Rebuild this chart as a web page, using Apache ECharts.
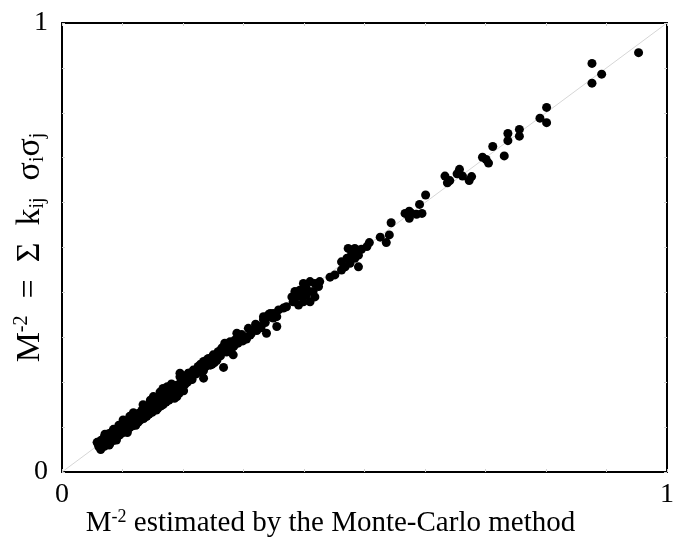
<!DOCTYPE html>
<html>
<head>
<meta charset="utf-8">
<script src="https://cdn.jsdelivr.net/npm/echarts@6/dist/echarts.min.js"></script>
<style>
  html, body { margin: 0; padding: 0; background: #fff; }
  #scatter-chart { width: 680px; height: 539px; }
</style>
</head>
<body>
<div id="scatter-chart"></div>
<script>
// tick labels shown on both axes
var tickLabels = ['0', '1'];

// dense band, low values (x = Monte-Carlo, y = sum)
var lowX = [0.060, 0.061, 0.062, 0.063, 0.064, 0.065, 0.066, 0.067, 0.068, 0.069, 0.070, 0.071, 0.072, 0.073, 0.074, 0.075, 0.076, 0.077, 0.078, 0.079,
            0.080, 0.082, 0.083, 0.084, 0.085, 0.086, 0.087, 0.088, 0.090, 0.091, 0.092, 0.093, 0.095, 0.096, 0.097, 0.099, 0.100, 0.101, 0.103, 0.104,
            0.105, 0.107, 0.108, 0.110, 0.111, 0.112, 0.114, 0.115, 0.117, 0.118, 0.120, 0.121, 0.123, 0.124, 0.126, 0.127, 0.129, 0.130, 0.132, 0.133,
            0.135, 0.136, 0.138, 0.139, 0.141, 0.142, 0.144, 0.145, 0.147, 0.149, 0.150, 0.152, 0.153, 0.155, 0.156, 0.158, 0.160, 0.161, 0.163, 0.164,
            0.166, 0.167, 0.169, 0.171, 0.172, 0.174, 0.176, 0.177, 0.179, 0.181, 0.183, 0.184, 0.186, 0.188, 0.190, 0.190, 0.192, 0.194, 0.196, 0.198,
            0.200, 0.201, 0.203, 0.205, 0.207, 0.209, 0.211];
var lowY = [0.061, 0.056, 0.067, 0.059, 0.070, 0.054, 0.063, 0.072, 0.060, 0.066, 0.078, 0.062, 0.069, 0.081, 0.065, 0.074, 0.068, 0.085, 0.071, 0.063,
            0.079, 0.088, 0.074, 0.082, 0.070, 0.093, 0.080, 0.087, 0.076, 0.096, 0.085, 0.090, 0.082, 0.101, 0.091, 0.096, 0.087, 0.106, 0.097, 0.092,
            0.110, 0.100, 0.094, 0.114, 0.105, 0.099, 0.118, 0.108, 0.103, 0.123, 0.113, 0.107, 0.128, 0.117, 0.111, 0.131, 0.121, 0.116, 0.137, 0.126,
            0.119, 0.141, 0.130, 0.124, 0.146, 0.135, 0.129, 0.150, 0.139, 0.133, 0.155, 0.144, 0.138, 0.160, 0.149, 0.141, 0.164, 0.153, 0.147, 0.169,
            0.158, 0.151, 0.173, 0.162, 0.156, 0.178, 0.166, 0.160, 0.183, 0.171, 0.166, 0.188, 0.176, 0.170, 0.168, 0.193, 0.181, 0.176, 0.199, 0.187,
            0.209, 0.181, 0.195, 0.212, 0.200, 0.220, 0.205];

// bumps along the edges of the low band
var edgeX = [0.058, 0.064, 0.070, 0.071, 0.078, 0.085, 0.090, 0.094, 0.101, 0.108, 0.112, 0.118, 0.122, 0.129, 0.134, 0.140, 0.146, 0.151, 0.156, 0.162,
             0.167, 0.167, 0.174, 0.181, 0.186, 0.190, 0.195];
var edgeY = [0.066, 0.050, 0.057, 0.084, 0.060, 0.095, 0.071, 0.104, 0.116, 0.088, 0.124, 0.132, 0.104, 0.118, 0.150, 0.124, 0.160, 0.168, 0.138, 0.178,
             0.186, 0.150, 0.190, 0.196, 0.164, 0.178, 0.212];

// band between 0.2 and 0.36
var midX = [0.195, 0.209, 0.213, 0.217, 0.221, 0.225, 0.229, 0.234, 0.234, 0.234, 0.238, 0.242, 0.245, 0.247, 0.250, 0.252, 0.255, 0.258, 0.262, 0.264,
            0.267, 0.267, 0.269, 0.272, 0.275, 0.278, 0.280, 0.283, 0.286, 0.289, 0.291, 0.294, 0.297, 0.302, 0.305, 0.308, 0.311, 0.313, 0.316, 0.320,
            0.322, 0.325, 0.329, 0.333, 0.336, 0.338, 0.341, 0.344, 0.349, 0.355, 0.215, 0.224, 0.231, 0.240, 0.248, 0.256, 0.261, 0.271, 0.284, 0.299];
var midY = [0.220, 0.220, 0.215, 0.227, 0.218, 0.235, 0.240, 0.226, 0.209, 0.246, 0.236, 0.253, 0.238, 0.250, 0.261, 0.244, 0.257, 0.268, 0.259, 0.276,
            0.272, 0.233, 0.287, 0.267, 0.279, 0.290, 0.275, 0.261, 0.294, 0.309, 0.287, 0.298, 0.306, 0.301, 0.296, 0.320, 0.305, 0.309, 0.316, 0.329,
            0.315, 0.324, 0.321, 0.339, 0.333, 0.309, 0.346, 0.353, 0.343, 0.324, 0.206, 0.229, 0.221, 0.250, 0.240, 0.249, 0.269, 0.282, 0.280, 0.292];

// looser cloud between 0.33 and 0.55
var upperX = [0.333, 0.341, 0.349, 0.355, 0.358, 0.366, 0.371, 0.380, 0.382, 0.385, 0.388, 0.391, 0.393, 0.396, 0.399, 0.399, 0.404, 0.404, 0.410, 0.410,
              0.415, 0.418, 0.418, 0.424, 0.426, 0.443, 0.451, 0.462, 0.462, 0.468, 0.471, 0.473, 0.476, 0.479, 0.484, 0.484, 0.490, 0.490, 0.495, 0.504,
              0.508, 0.526, 0.536, 0.541, 0.544];
var upperY = [0.346, 0.350, 0.353, 0.346, 0.361, 0.365, 0.368, 0.390, 0.379, 0.402, 0.390, 0.372, 0.405, 0.394, 0.420, 0.379, 0.409, 0.394, 0.424, 0.379,
              0.402, 0.420, 0.390, 0.413, 0.424, 0.434, 0.439, 0.468, 0.450, 0.457, 0.476, 0.498, 0.465, 0.487, 0.498, 0.476, 0.483, 0.457, 0.496, 0.502,
              0.511, 0.523, 0.511, 0.528, 0.555];

// sparse points near the top
var topX = [0.567, 0.574, 0.574, 0.578, 0.586, 0.591, 0.595, 0.601, 0.633, 0.637, 0.641, 0.653, 0.657, 0.662, 0.673, 0.677, 0.695, 0.701, 0.705, 0.712,
            0.731, 0.737, 0.737, 0.756, 0.756, 0.790, 0.801, 0.801, 0.876, 0.876, 0.892, 0.953];
var topY = [0.576, 0.581, 0.565, 0.576, 0.574, 0.596, 0.576, 0.617, 0.659, 0.644, 0.649, 0.664, 0.674, 0.659, 0.649, 0.658, 0.701, 0.696, 0.688, 0.725,
            0.704, 0.754, 0.738, 0.763, 0.748, 0.788, 0.812, 0.778, 0.910, 0.866, 0.886, 0.934];

var pairs = function (xs, ys) {
  var out = [];
  for (var i = 0; i < xs.length; i++) out.push([xs[i], ys[i]]);
  return out;
};
var points = [].concat(pairs(lowX, lowY), pairs(edgeX, edgeY), pairs(midX, midY), pairs(upperX, upperY), pairs(topX, topY));

var serif = '"Liberation Serif", "Times New Roman", serif';

var tickFmt = function (val) {
  var s = String(val);
  return tickLabels.indexOf(s) >= 0 ? s : '';
};

var baseAxis = {
  type: 'value',
  min: 0,
  max: 1,
  interval: 0.1,
  splitLine: { show: false },
  axisLine: { show: true, onZero: false, lineStyle: { color: '#000', width: 2 } },
  axisTick: { show: true, inside: true, length: 3, lineStyle: { color: '#d0d0d0', width: 1 } }
};

var myChart = echarts.init(document.getElementById('scatter-chart'));

var option = {
  animation: false,
  backgroundColor: '#fff',
  grid: { left: 62, right: 13, top: 23, bottom: 67, outerBoundsMode: 'none', containLabel: false },
  xAxis: [
    Object.assign({}, baseAxis, {
      position: 'bottom',
      axisLabel: { formatter: tickFmt, fontFamily: serif, fontSize: 28, color: '#000', margin: 9 },
      name: '{t|M}{s|-2}{t| estimated by the Monte-Carlo method}',
      nameLocation: 'middle',
      nameGap: 36,
      nameMoveOverlap: false,
      nameTextStyle: {
        padding: [0, 68, 0, 0],
        rich: {
          t: { fontFamily: serif, fontSize: 29, color: '#000', lineHeight: 30, verticalAlign: 'bottom' },
          s: { fontFamily: serif, fontSize: 18, color: '#000', lineHeight: 30, verticalAlign: 'top' }
        }
      }
    }),
    Object.assign({}, baseAxis, { position: 'top', axisLabel: { show: false } })
  ],
  yAxis: [
    Object.assign({}, baseAxis, {
      position: 'left',
      axisLabel: { formatter: tickFmt, fontFamily: serif, fontSize: 28, color: '#000', margin: 14 },
      name: '{t|M}{s|-2}{t|  =  Σ  k}{b|ij}{t|  σ}{b|i}{t|σ}{b|j}',
      nameLocation: 'middle',
      nameRotate: 90,
      nameGap: 14,
      nameMoveOverlap: false,
      nameTextStyle: {
        rich: {
          t: { fontFamily: serif, fontSize: 34, color: '#000', lineHeight: 36, verticalAlign: 'middle' },
          s: { fontFamily: serif, fontSize: 20, color: '#000', lineHeight: 36, verticalAlign: 'top' },
          b: { fontFamily: serif, fontSize: 20, color: '#000', lineHeight: 36, verticalAlign: 'bottom' }
        }
      }
    }),
    Object.assign({}, baseAxis, { position: 'right', axisLabel: { show: false } })
  ],
  series: [
    {
      // y = x reference line
      type: 'line',
      data: [[0, 0], [1, 1]],
      symbol: 'none',
      silent: true,
      lineStyle: { color: '#d6d6d6', width: 1 },
      z: 1
    },
    {
      type: 'scatter',
      data: points,
      symbolSize: 9,
      itemStyle: { color: '#000', opacity: 1 },
      z: 2
    }
  ]
};

myChart.setOption(option);
</script>
</body>
</html>
